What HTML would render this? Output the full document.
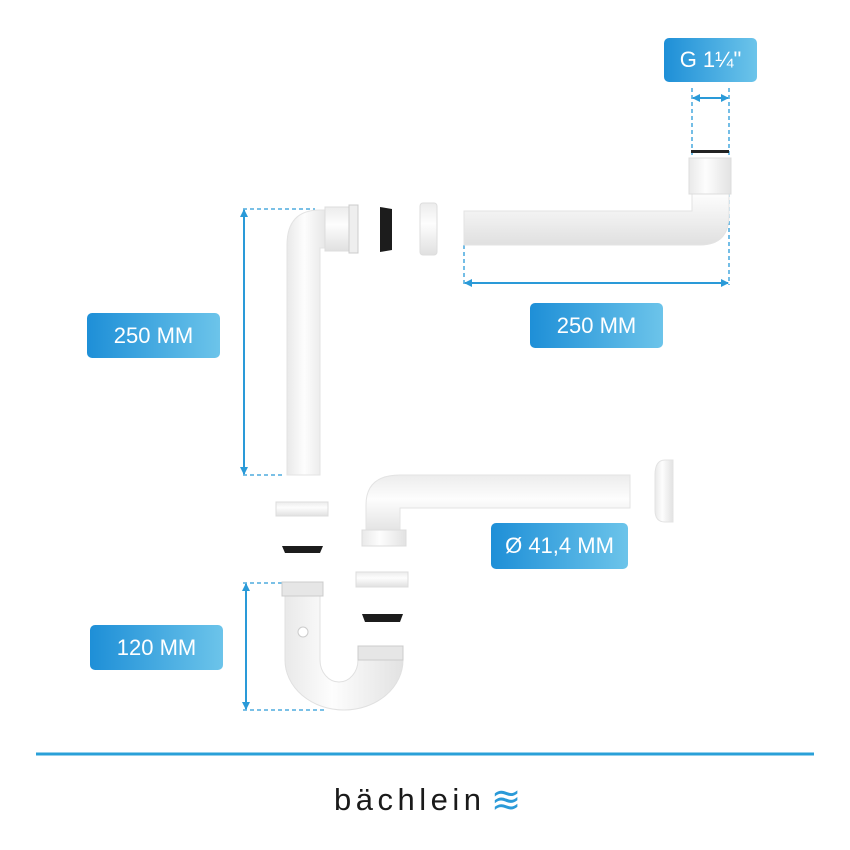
<!DOCTYPE html>
<html><head><meta charset="utf-8"><style>
html,body{margin:0;padding:0;background:#fff;width:850px;height:850px;overflow:hidden}
.lab{position:absolute;color:#fff;font-family:"Liberation Sans",sans-serif;font-size:22px;display:flex;align-items:center;justify-content:center;border-radius:5px;background:linear-gradient(90deg,#1e8fd7,#6cc4ea)}
</style></head><body>
<svg width="850" height="850" style="position:absolute;left:0;top:0">
<defs>
<linearGradient id="pv" x1="0" x2="1" y1="0" y2="0"><stop offset="0" stop-color="#e9e9e9"/><stop offset=".4" stop-color="#fdfdfd"/><stop offset="1" stop-color="#e2e2e2"/></linearGradient>
<linearGradient id="ph" x1="0" x2="0" y1="0" y2="1"><stop offset="0" stop-color="#ececec"/><stop offset=".4" stop-color="#fdfdfd"/><stop offset="1" stop-color="#e0e0e0"/></linearGradient>
<marker id="a" markerWidth="8" markerHeight="8" refX="7" refY="4" orient="auto-start-reverse" markerUnits="userSpaceOnUse"><path d="M0,0 L8,4 L0,8z" fill="#2a9ad8"/></marker>
</defs>
<g stroke="#2a9ad8" stroke-width="1.3" stroke-dasharray="4,3" fill="none">
<line x1="692" y1="88" x2="692" y2="170"/><line x1="729" y1="88" x2="729" y2="285"/>
<line x1="464" y1="245" x2="464" y2="285"/>
<line x1="243" y1="209" x2="315" y2="209"/><line x1="243" y1="475" x2="285" y2="475"/>
<line x1="243" y1="583" x2="282" y2="583"/><line x1="243" y1="710" x2="325" y2="710"/>
</g>
<g stroke="#2a9ad8" stroke-width="2" fill="none" marker-start="url(#a)" marker-end="url(#a)">
<line x1="693" y1="98" x2="728" y2="98"/>
<line x1="465" y1="283" x2="728" y2="283"/>
<line x1="244" y1="210" x2="244" y2="474"/>
<line x1="246" y1="584" x2="246" y2="709"/>
<line x1="561" y1="476" x2="561" y2="507"/>
</g>
<path d="M464,211 H692 V160 H729 V215 Q729,245 700,245 H464Z" fill="url(#ph)" stroke="#e3e3e3"/>
<rect x="689" y="158" width="42" height="36" fill="url(#pv)" stroke="#ddd"/>
<rect x="691" y="150" width="38" height="3" fill="#222"/>
<path d="M287,475 V245 Q287,210 320,210 H330 V248 H320 V475Z" fill="url(#pv)" stroke="#e3e3e3"/>
<rect x="325" y="207" width="26" height="44" fill="url(#ph)" stroke="#ddd"/>
<rect x="349" y="205" width="9" height="48" fill="#eee" stroke="#ccc"/>
<path d="M380,207 L392,209 L392,250 L380,252Z" fill="#1c1c1c"/>
<rect x="420" y="203" width="17" height="52" fill="url(#ph)" stroke="#ddd" rx="3"/>
<rect x="276" y="502" width="52" height="14" fill="url(#ph)" stroke="#ddd"/>
<path d="M282,546 H323 L320,553 H285Z" fill="#1c1c1c"/>
<path d="M285,596 H320 V660 A19,22 0 0 0 358,660 H403 A59,50 0 0 1 285,660 Z" fill="url(#pv)" stroke="#e0e0e0"/>
<rect x="282" y="582" width="41" height="14" fill="#e6e6e6" stroke="#ccc"/>
<circle cx="303" cy="632" r="5" fill="#fff" stroke="#ccc"/>
<rect x="358" y="646" width="45" height="14" fill="#e6e6e6" stroke="#ccc"/>
<rect x="356" y="572" width="52" height="15" fill="url(#ph)" stroke="#ddd"/>
<path d="M362,614 H403 L400,622 H365Z" fill="#1c1c1c"/>
<path d="M366,535 V505 Q366,475 400,475 H630 V508 H400 V535Z" fill="url(#ph)" stroke="#e3e3e3"/>
<rect x="362" y="530" width="44" height="16" fill="url(#pv)" stroke="#ddd"/>
<path d="M673,460 H665 Q655,460 655,475 V510 Q655,522 665,522 H673Z" fill="url(#pv)" stroke="#e3e3e3"/>
<line x1="36" y1="754" x2="814" y2="754" stroke="#2aa0d8" stroke-width="3"/>
<text x="334" y="810" font-family="Liberation Sans,sans-serif" font-size="31" fill="#1a1a1a" letter-spacing="4.5">bächlein</text>
<text x="491" y="812" font-family="DejaVu Sans,sans-serif" font-size="36" fill="#2a9ad8">≋</text>
</svg>
<div class="lab" style="left:664px;top:38px;width:93px;height:44px">G 1¼"</div>
<div class="lab" style="left:530px;top:303px;width:133px;height:45px">250 MM</div>
<div class="lab" style="left:87px;top:313px;width:133px;height:45px">250 MM</div>
<div class="lab" style="left:491px;top:523px;width:137px;height:46px">Ø 41,4 MM</div>
<div class="lab" style="left:90px;top:625px;width:133px;height:45px">120 MM</div>
</body></html>
